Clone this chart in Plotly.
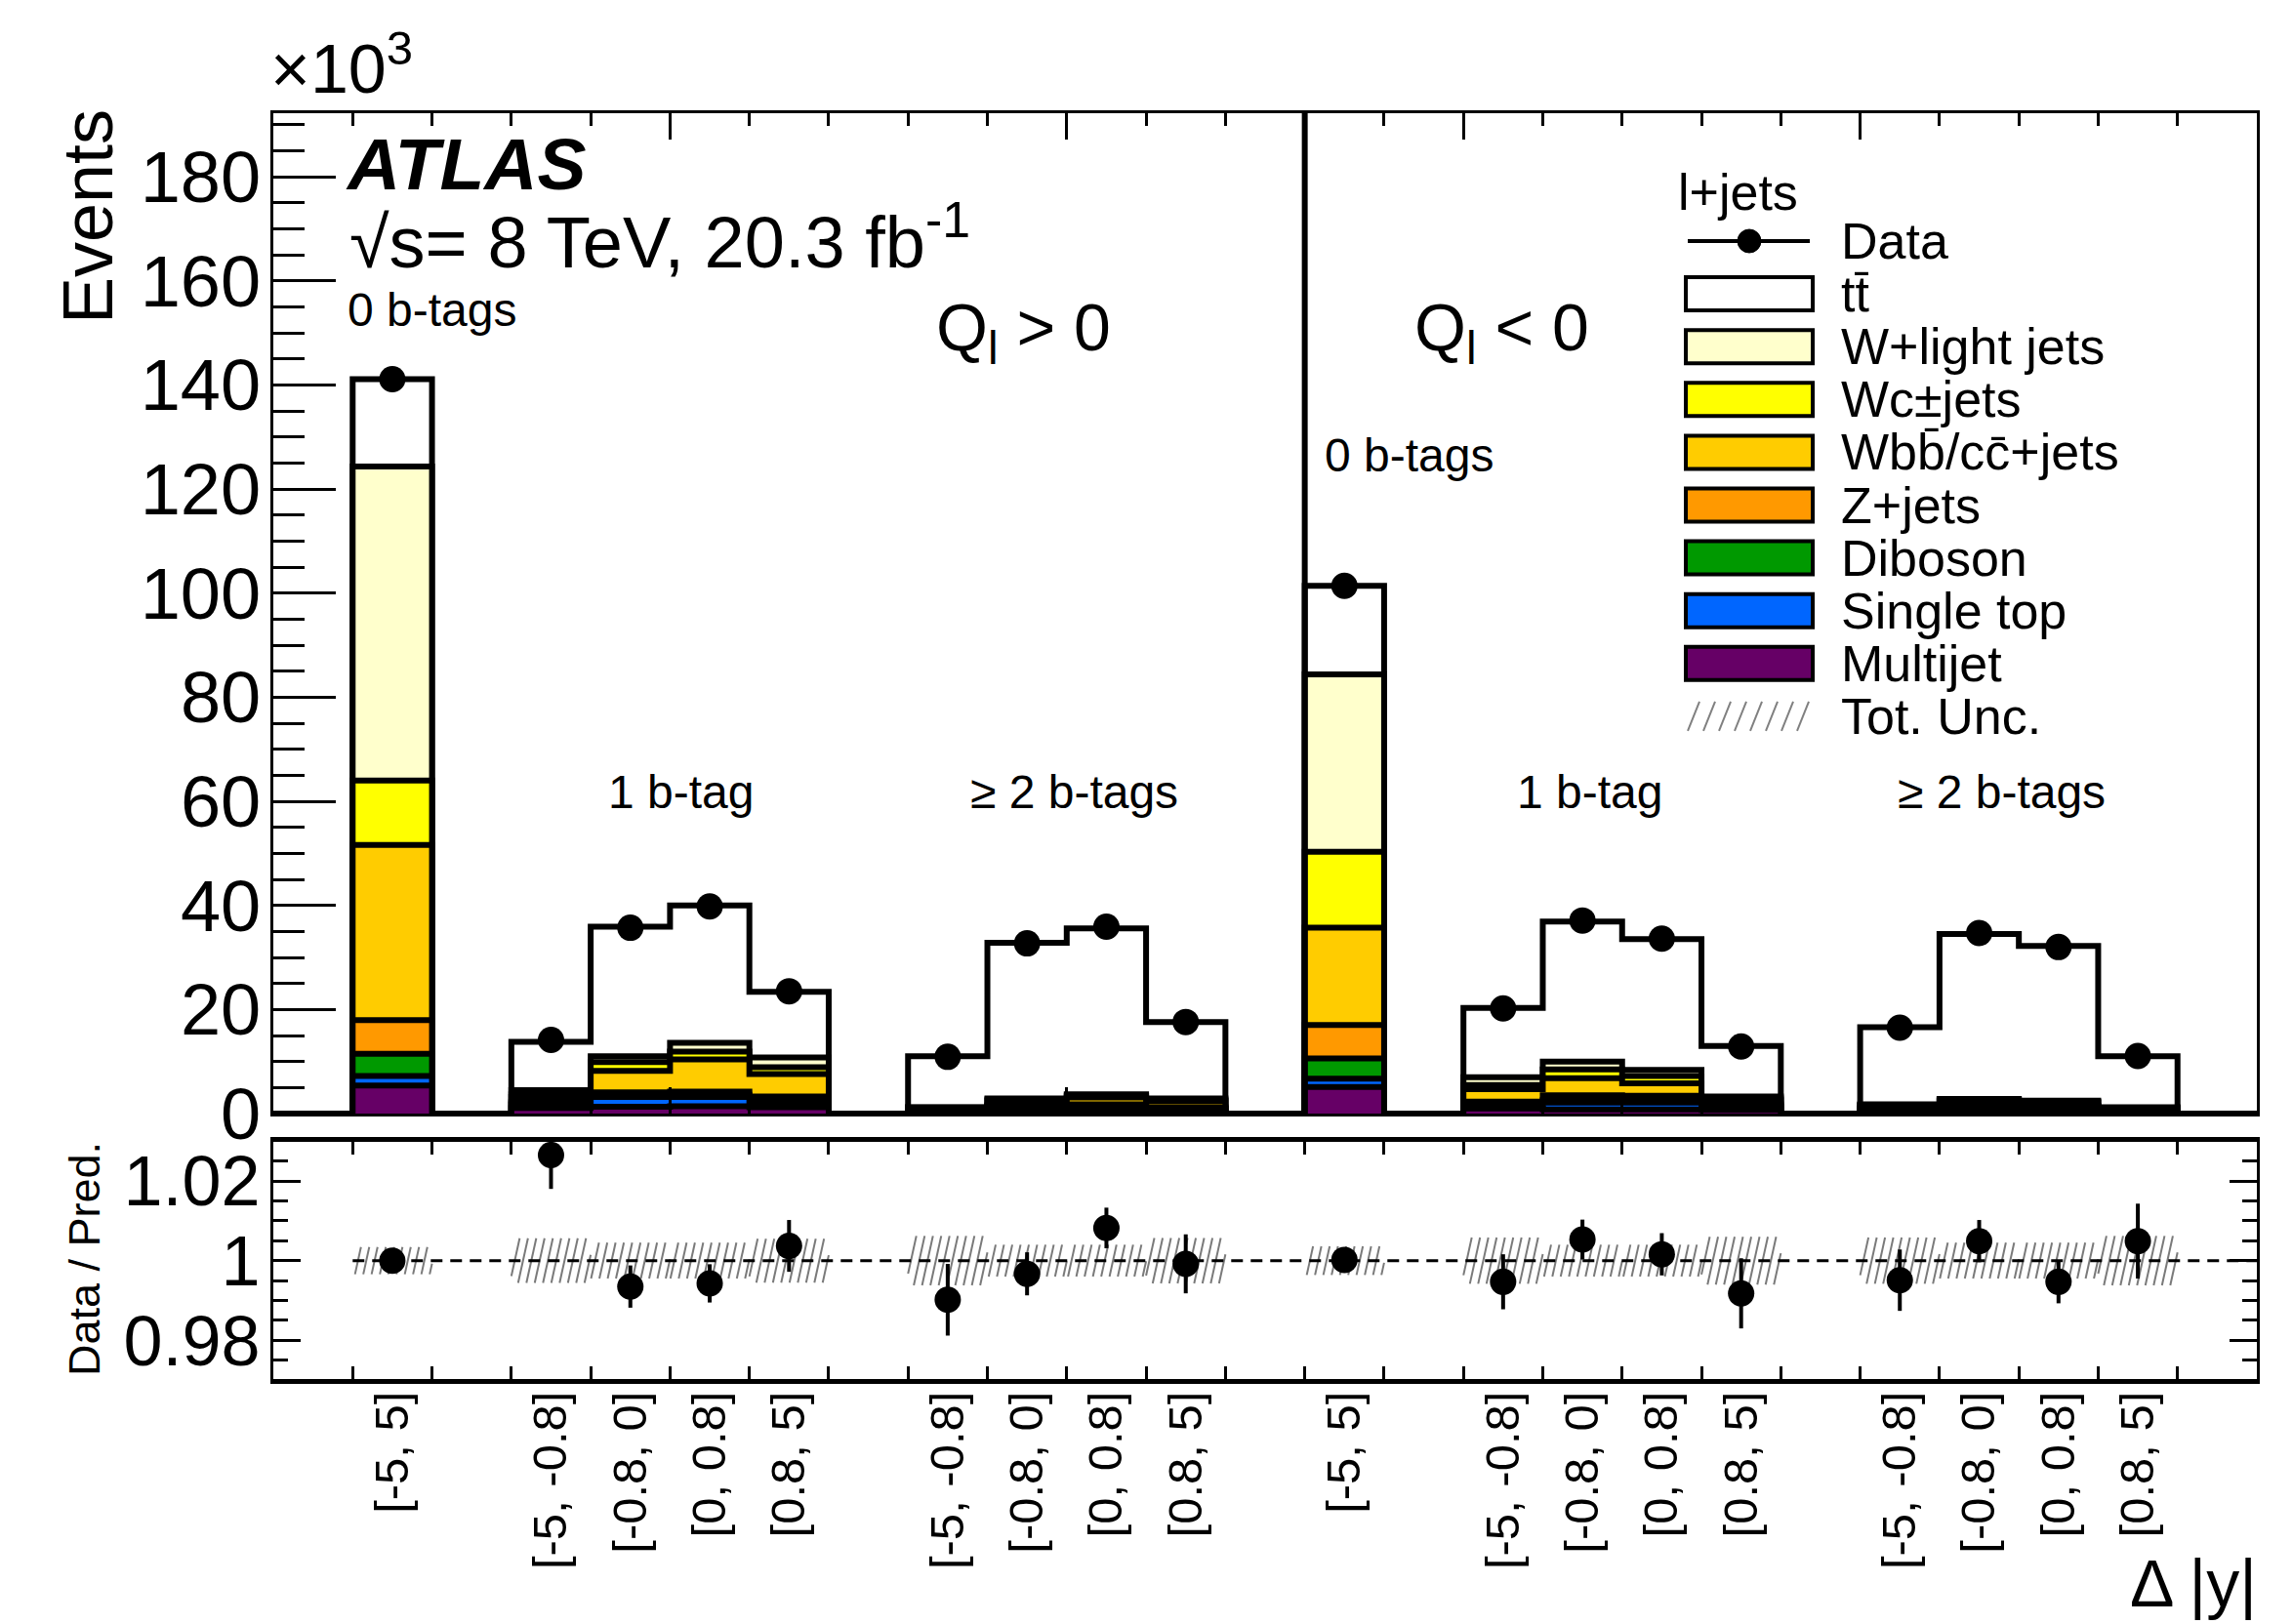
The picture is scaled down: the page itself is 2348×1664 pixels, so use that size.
import plotly.graph_objects as go

FONT = "Liberation Sans, Arial, Helvetica, sans-serif"

# ---------------- data (values in 10^3 events) ----------------
bin_labels = ['', '[-5, 5]', '',
              '[-5, -0.8]', '[-0.8, 0]', '[0, 0.8]', '[0.8, 5]', '',
              '[-5, -0.8]', '[-0.8, 0]', '[0, 0.8]', '[0.8, 5]', '',
              '[-5, 5]', '',
              '[-5, -0.8]', '[-0.8, 0]', '[0, 0.8]', '[0.8, 5]', '',
              '[-5, -0.8]', '[-0.8, 0]', '[0, 0.8]', '[0.8, 5]', '']

# filled bins, in order: Q>0 (0b, 1b x4, >=2b x4), Q<0 (0b, 1b x4, >=2b x4)
multijet   = [5.4, 1.1, 1.3, 1.4, 1.2, 0.3, 0.3, 0.4, 0.3,
              5.1, 1.0, 0.8, 0.8, 0.7, 0.4, 0.3, 0.3, 0.3]
single_top = [1.8, 0.6, 1.9, 1.8, 0.8, 0.4, 1.0, 1.1, 0.6,
              1.6, 0.7, 1.3, 1.3, 0.5, 0.5, 1.0, 0.9, 0.3]
diboson    = [4.3, 0.2, 0.3, 0.4, 0.4, 0.05, 0.1, 0.1, 0.1,
              3.9, 0.2, 0.5, 0.4, 0.2, 0.05, 0.1, 0.1, 0.05]
zjets      = [6.45, 0.3, 0.6, 0.6, 0.9, 0.05, 0.2, 0.2, 0.2,
              6.4, 0.4, 0.9, 0.9, 0.4, 0.1, 0.2, 0.2, 0.05]
wbb        = [33.65, 1.0, 4.1, 6.2, 4.3, 0.3, 0.9, 1.3, 1.2,
              18.7, 2.4, 3.3, 2.4, 0.8, 0.5, 0.8, 0.6, 0.3]
wc         = [12.4, 0.5, 1.7, 1.5, 1.3, 0.05, 0.2, 0.3, 0.2,
              14.6, 0.8, 1.7, 1.4, 0.3, 0.1, 0.2, 0.2, 0.1]
wlight     = [60.3, 0.8, 1.1, 1.7, 1.9, 0.05, 0.2, 0.3, 0.3,
              34.1, 1.5, 1.5, 1.2, 0.4, 0.15, 0.2, 0.2, 0.1]
ttbar      = [16.8, 9.3, 24.9, 26.4, 12.6, 9.8, 29.9, 31.9, 14.7,
              17.0, 13.3, 26.9, 25.1, 9.7, 14.8, 31.7, 29.7, 9.8]
data       = [141.1, 14.15, 35.7, 39.8, 23.5, 10.9, 32.7, 35.9, 17.6,
              101.4, 20.2, 37.1, 33.6, 12.9, 16.5, 34.7, 32.0, 11.05]

ratio      = [1.000, 1.0265, 0.9935, 0.9943, 1.0037, 0.9902, 0.9967, 1.0082, 0.9992,
              1.0002, 0.9947, 1.0053, 1.0016, 0.9918, 0.9951, 1.0049, 0.9947, 1.0049]
ratio_err  = [0.0015, 0.0085, 0.0053, 0.0048, 0.0065, 0.0090, 0.0054, 0.0051, 0.0074,
              0.0015, 0.0069, 0.0050, 0.0053, 0.0088, 0.0077, 0.0053, 0.0054, 0.0094]
tot_unc    = [0.0034, 0.0056, 0.0045, 0.0045, 0.0055, 0.0062, 0.0040, 0.0040, 0.0057,
              0.0036, 0.0058, 0.0040, 0.0040, 0.0060, 0.0058, 0.0045, 0.0045, 0.0062]

y_tick_vals = [0, 20, 40, 60, 80, 100, 120, 140, 160, 180]
ratio_tick_vals = [0.98, 1.0, 1.02]
ratio_tick_text = ['0.98', '1', '1.02']

colors = {
    'Multijet': '#660066', 'Single top': '#0066FF', 'Diboson': '#009900',
    'Z+jets': '#FF9900', 'Wbb': '#FFCC00', 'Wc': '#FFFF00',
    'W+light': '#FFFFCC', 'tt': '#FFFFFF',
}

# ---------------- geometry ----------------
W, H = 2348, 1664
ML, MR, MT, MB = 280, 36, 116, 251
PW, PH = W - ML - MR, H - MT - MB
TOP_BOTTOM_PX = 1141
RATIO_TOP_PX = 1170
YR_TOP = [0, 192.2]
YR_RATIO = [0.9703, 1.0298]


def pxx(x):
    return (x - ML) / PW


def pxy(y):
    return (H - MB - y) / PH


n_bins = len(bin_labels)
filled = [i for i, t in enumerate(bin_labels) if t]
centers = [i + 0.5 for i in filled]
edges = list(range(n_bins + 1))


def to_bins(vals):
    out = [0.0] * n_bins
    for i, v in zip(filled, vals):
        out[i] = v
    return out


stack = [('Multijet', multijet), ('Single top', single_top), ('Diboson', diboson),
         ('Z+jets', zjets), ('Wbb', wbb), ('Wc', wc), ('W+light', wlight), ('tt', ttbar)]

fig = go.Figure()

cum = []
running = [0.0] * len(filled)
for name, vals in stack:
    running = [a + b for a, b in zip(running, vals)]
    cum.append((name, list(running)))

for name, vals in reversed(cum):
    b = to_bins(vals)
    fig.add_trace(go.Scatter(
        x=edges, y=b + [b[-1]], mode='lines',
        line=dict(shape='hv', color='black', width=6),
        fill='tozeroy', fillcolor=colors[name],
        xaxis='x', yaxis='y', showlegend=False, hoverinfo='skip'))

fig.add_trace(go.Scatter(
    x=centers, y=data, mode='markers',
    marker=dict(color='black', size=27),
    xaxis='x', yaxis='y', showlegend=False, hoverinfo='skip'))

# ---------------- ratio panel ----------------
ratio_px_per_unit = (H - MB - RATIO_TOP_PX) / (YR_RATIO[1] - YR_RATIO[0])
bin_px = PW / n_bins
spacing = 8.5 / bin_px
hx, hy = [], []
for c, u in zip(centers, tot_unc):
    x0, x1 = c - 0.5, c + 0.5
    h_px = 2 * u * ratio_px_per_unit
    s = 0.22 * h_px / bin_px
    xs = x0 - s
    while xs < x1:
        tmin = max(0.0, (x0 - xs) / s)
        tmax = min(1.0, (x1 - xs) / s)
        if tmax > tmin:
            hx += [xs + s * tmin, xs + s * tmax, None]
            hy += [1 - u + 2 * u * tmin, 1 - u + 2 * u * tmax, None]
        xs += spacing

fig.add_trace(go.Scatter(x=hx, y=hy, mode='lines', line=dict(color='#7a7a7a', width=2),
                         xaxis='x2', yaxis='y2', showlegend=False, hoverinfo='skip'))
fig.add_trace(go.Scatter(x=[filled[0], n_bins], y=[1, 1], mode='lines',
                         line=dict(color='black', width=3, dash='12px,8px'),
                         xaxis='x2', yaxis='y2', showlegend=False, hoverinfo='skip'))
fig.add_trace(go.Scatter(
    x=centers, y=ratio, mode='markers',
    marker=dict(color='black', size=27),
    error_y=dict(type='data', array=ratio_err, thickness=4, width=0, color='black'),
    xaxis='x2', yaxis='y2', showlegend=False, hoverinfo='skip'))

# ---------------- axes ----------------
top_dom = [pxy(TOP_BOTTOM_PX), 1.0]
rat_dom = [0.0, pxy(RATIO_TOP_PX)]

fig.update_layout(
    width=W, height=H,
    margin=dict(l=ML, r=MR, t=MT, b=MB),
    paper_bgcolor='white', plot_bgcolor='white', showlegend=False,
    font=dict(family=FONT, color='black'),
    xaxis=dict(domain=[0, 1], range=[0, n_bins], anchor='y', showgrid=False, zeroline=False,
               showline=True, linecolor='black', linewidth=3, mirror='ticks',
               tickmode='linear', tick0=0, dtick=5, ticks='inside', ticklen=27, tickwidth=3,
               tickcolor='black', showticklabels=False,
               minor=dict(tickmode='linear', tick0=0, dtick=1, ticks='inside', ticklen=13,
                          tickwidth=3, tickcolor='black', showgrid=False)),
    yaxis=dict(domain=top_dom, range=YR_TOP, anchor='x', showgrid=False, zeroline=False,
               showline=True, linecolor='black', linewidth=3, mirror=True,
               tickmode='array', tickvals=y_tick_vals, ticktext=[str(v) for v in y_tick_vals],
               ticks='inside', ticklen=64, tickwidth=3, tickcolor='black',
               tickfont=dict(size=74, family=FONT, color='black'), ticklabelstandoff=-5,
               minor=dict(tickmode='linear', tick0=0, dtick=5, ticks='inside', ticklen=32,
                          tickwidth=3, tickcolor='black', showgrid=False)),
    yaxis3=dict(overlaying='y', side='right', anchor='x', range=YR_TOP, showgrid=False,
                zeroline=False, showline=False, showticklabels=False,
                tickmode='linear', tick0=0, dtick=20, ticks='inside', ticklen=33, tickwidth=3,
                tickcolor='black',
                minor=dict(tickmode='linear', tick0=0, dtick=5, ticks='inside', ticklen=16,
                           tickwidth=3, tickcolor='black', showgrid=False)),
    xaxis2=dict(domain=[0, 1], range=[0, n_bins], anchor='y2', showgrid=False, zeroline=False,
                showline=True, linecolor='black', linewidth=5, mirror='ticks',
                tickmode='array', tickvals=centers, ticktext=[bin_labels[i] for i in filled],
                tickangle=-90, ticks='inside', ticklen=0,
                tickfont=dict(size=49, family=FONT, color='black'), ticklabelstandoff=-12,
                minor=dict(tickmode='linear', tick0=0, dtick=1, ticks='inside', ticklen=13,
                           tickwidth=3, tickcolor='black', showgrid=False)),
    yaxis2=dict(domain=rat_dom, range=YR_RATIO, anchor='x2', showgrid=False, zeroline=False,
                showline=True, linecolor='black', linewidth=3, mirror='ticks',
                tickmode='array', tickvals=ratio_tick_vals, ticktext=ratio_tick_text,
                ticks='inside', ticklen=28, tickwidth=3, tickcolor='black',
                tickfont=dict(size=72, family=FONT, color='black'), ticklabelstandoff=-4,
                minor=dict(tickmode='linear', tick0=1, dtick=0.005, ticks='inside', ticklen=15,
                           tickwidth=3, tickcolor='black', showgrid=False)),
)

# ---------------- decorations ----------------
shapes = []
sep_x = filled[9]
shapes.append(dict(type='line', xref='x', yref='y', x0=sep_x, x1=sep_x, y0=0, y1=YR_TOP[1],
                   line=dict(color='black', width=6)))


def ann(text, x, y, size, xanchor='center', yanchor='middle', angle=0):
    return dict(text=text, x=pxx(x), y=pxy(y), xref='paper', yref='paper', showarrow=False,
                font=dict(size=size, family=FONT, color='black'),
                xanchor=xanchor, yanchor=yanchor, textangle=angle)


anns = [
    ann('×10<sup>3</sup>', 275, 112, 70, xanchor='left', yanchor='bottom'),
    ann('Events', 90, 110, 72, xanchor='center', yanchor='top', angle=-90),
    ann('<b><i>ATLAS</i></b>', 352, 168, 75, xanchor='left'),
    ann('√s= 8 TeV, 20.3 fb<sup>-1</sup>', 356, 243, 74, xanchor='left'),
    ann('0 b-tags', 442, 317, 48),
    ann('Q<sub>l</sub> &gt; 0', 1048, 340, 68),
    ann('Q<sub>l</sub> &lt; 0', 1538, 340, 68),
    ann('0 b-tags', 1443, 466, 48),
    ann('1 b-tag', 697, 811, 48),
    ann('≥ 2 b-tags', 1100, 811, 48),
    ann('1 b-tag', 1628, 811, 48),
    ann('≥ 2 b-tags', 2050, 811, 48),
    ann('Data / Pred.', 86, 1290, 45, angle=-90),
    ann('Δ |y|', 2314, 1662, 68, xanchor='right', yanchor='bottom'),
]

# legend (drawn manually)
LX0, LX1, TX = 1727, 1857, 1884
row0, drow = 247, 54.1
anns.append(ann('l+jets', 1717, 197, 52, xanchor='left'))
legend_rows = ['Data', 'tt', 'W+light', 'Wc', 'Wbb', 'Z+jets', 'Diboson', 'Single top',
               'Multijet', 'Tot. Unc.']
legend_text = {'Data': 'Data', 'tt': 'tt\u0304', 'W+light': 'W+light jets', 'Wc': 'Wc±jets',
               'Wbb': 'Wbb\u0304/cc\u0304+jets', 'Z+jets': 'Z+jets', 'Diboson': 'Diboson',
               'Single top': 'Single top', 'Multijet': 'Multijet', 'Tot. Unc.': 'Tot. Unc.'}
for k, key in enumerate(legend_rows):
    yc = row0 + k * drow
    anns.append(ann(legend_text[key], TX, yc, 52, xanchor='left'))
    if key == 'Data':
        shapes.append(dict(type='line', xref='paper', yref='paper', x0=pxx(LX0 + 2), x1=pxx(LX1 - 3),
                           y0=pxy(yc), y1=pxy(yc), line=dict(color='black', width=4)))
        r = 12
        cx = (LX0 + LX1) / 2
        shapes.append(dict(type='circle', xref='paper', yref='paper', x0=pxx(cx - r), x1=pxx(cx + r),
                           y0=pxy(yc + r), y1=pxy(yc - r), fillcolor='black',
                           line=dict(color='black', width=1)))
    elif key == 'Tot. Unc.':
        for j in range(8):
            bx = LX0 + 2 + j * 16
            shapes.append(dict(type='line', xref='paper', yref='paper', x0=pxx(bx), x1=pxx(bx + 12),
                               y0=pxy(yc + 15), y1=pxy(yc - 15),
                               line=dict(color='#808080', width=2)))
    else:
        shapes.append(dict(type='rect', xref='paper', yref='paper', x0=pxx(LX0), x1=pxx(LX1),
                           y0=pxy(yc + 17), y1=pxy(yc - 17), fillcolor=colors[key],
                           line=dict(color='black', width=4)))

fig.update_layout(shapes=shapes, annotations=anns)

fig.write_html("out.html", config={'displayModeBar': False},
               post_script="document.body.style.margin='0';")
